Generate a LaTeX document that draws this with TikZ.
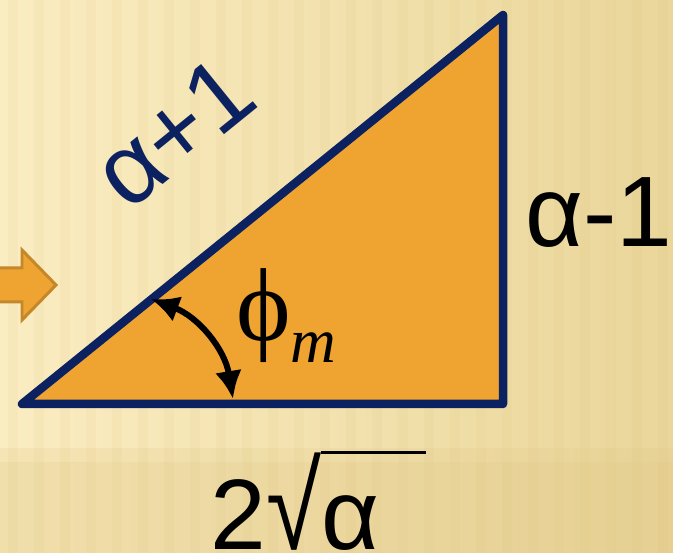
\documentclass[tikz,border=0pt]{standalone}
\usepackage{fontspec}
\setmainfont{Liberation Sans}
\newfontfamily\greekserif{Liberation Serif}
\usetikzlibrary{arrows.meta}
\definecolor{bglight}{HTML}{FBEDC2}
\definecolor{bgdark}{HTML}{EAD69A}
\definecolor{bgband}{HTML}{E0C684}
\definecolor{bgstripe}{HTML}{DCC27E}
\definecolor{triorange}{HTML}{EFA330}
\definecolor{trinavy}{HTML}{0B2160}
\definecolor{arrowrim}{HTML}{C4872A}

\begin{document}
\begin{tikzpicture}[
  x=0.02cm, y=-0.02cm,
  side/.style={draw=trinavy, fill=triorange, line width=0.17cm, line join=round},
  sidelabel/.style={font=\fontsize{57}{60}\selectfont, inner sep=0pt},
  anglearrow/.style={{Latex[length=0.56cm,width=0.54cm]}-{Latex[length=0.56cm,width=0.54cm]},
                     line width=0.12cm},
  hintarrow/.style={fill=triorange, draw=arrowrim, line width=0.06cm, line join=miter}
]

\useasboundingbox (0,0) rectangle (673,553);
\clip (0,0) rectangle (673,553);
\fill[left color=bglight, right color=bgdark] (0,0) rectangle (673,553);
\fill[bgband, opacity=0.2] (0,448) rectangle (673,553);
\fill[bgband, opacity=0.2] (0,462) rectangle (673,553);
\foreach \sx in {8,34,...,673}
  \fill[bgstripe, opacity=0.1] (\sx,0) rectangle ++(10,553);

\coordinate (lowleft) at (22,404);
\coordinate (lowright) at (503,404);
\coordinate (apex) at (503,15);
\filldraw[side] (lowleft) -- (lowright) -- (apex) -- cycle;

\draw[hintarrow] (-10,268) -- (22,268) -- (22,250) -- (56,285) -- (22,320) -- (22,302) -- (-10,302) -- cycle;

\node[sidelabel, text=trinavy, rotate=39] (hyplabel) at (174,132) {α+1};
\node[sidelabel, anchor=base west] (rightlabel) at (525,247) {α-1};
\node[sidelabel, anchor=base west] (baselabel) at (210,550)
  {2\scalebox{1}[1.22]{√}\rlap{\rule[1.93cm]{2.1cm}{0.06cm}}α};
\node[anchor=base west, inner sep=0pt, font=\greekserif\fontsize{59}{64}\selectfont] (anglelabel)
  at (236,341) {ϕ\raisebox{-0.44cm}{\fontsize{36}{40}\selectfont\itshape m}};

\coordinate (arcstart) at (151,299);
\coordinate (arcend) at (233,399);
\draw[anglearrow] (arcstart) to[bend left=30] (arcend);

\end{tikzpicture}
\end{document}
